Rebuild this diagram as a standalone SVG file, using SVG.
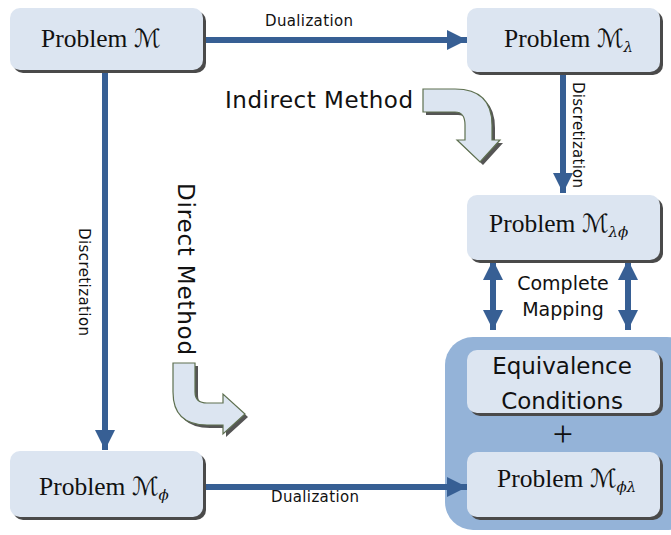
<svg xmlns="http://www.w3.org/2000/svg" width="671" height="535" viewBox="0 0 671 535">
<style>
.bg{fill:#ffffff}
.node{fill:#dce5f1}
.shadow{fill:#4a4a4a}
.cont{fill:#94b3d8}
.pt{font-family:"Liberation Serif","DejaVu Serif",serif;font-size:25.5px;fill:#111}
.m{font-family:"DejaVu Serif","DejaVu Sans",serif;font-size:25px}
.sub{font-family:"DejaVu Serif",serif;font-size:15px;font-style:italic}
.sans{font-family:"DejaVu Sans","Liberation Sans",sans-serif;fill:#111}
.conn{stroke:#375f94;stroke-width:6;fill:none}
.head{fill:#375f94}
.curve{fill:#dce5f1;stroke:#5e7050;stroke-width:1.2}
.cshadow{fill:#555}
</style>
<defs>
<marker id="ah" markerUnits="userSpaceOnUse" markerWidth="22" markerHeight="22" refX="20" refY="11" orient="auto">
<path class="head" d="M0,1 L20,11 L0,21 Z"/>
</marker>
<marker id="ahs" markerUnits="userSpaceOnUse" markerWidth="22" markerHeight="22" refX="2" refY="11" orient="auto">
<path class="head" d="M20,1 L0,11 L20,21 Z"/>
</marker>
</defs>
<rect class="bg" width="671" height="535"/>

<g id="container">
<rect class="cont" x="445" y="337" width="250" height="193" rx="28"/>
</g>

<g id="connectors">
<line class="conn" x1="203" y1="40" x2="467" y2="40" marker-end="url(#ah)"/>
<line class="conn" x1="105" y1="70" x2="105" y2="450" marker-end="url(#ah)"/>
<line class="conn" x1="563" y1="72" x2="563" y2="193" marker-end="url(#ah)"/>
<line class="conn" x1="203" y1="487" x2="467" y2="487" marker-end="url(#ah)"/>
<line class="conn" x1="493" y1="262" x2="493" y2="330" marker-start="url(#ahs)" marker-end="url(#ah)"/>
<line class="conn" x1="628" y1="262" x2="628" y2="330" marker-start="url(#ahs)" marker-end="url(#ah)"/>
<text class="sans" x="309" y="26" font-size="15" text-anchor="middle" textLength="88">Dualization</text>
<text class="sans" x="315" y="502" font-size="15" text-anchor="middle" textLength="88">Dualization</text>
<text class="sans" font-size="15" text-anchor="middle" textLength="106" transform="translate(573,135) rotate(90)">Discretization</text>
<text class="sans" font-size="15" text-anchor="middle" textLength="108" transform="translate(79,282) rotate(90)">Discretization</text>
<text class="sans" x="563" y="290" font-size="19" text-anchor="middle">Complete</text>
<text class="sans" x="563" y="316" font-size="19" text-anchor="middle">Mapping</text>
</g>

<g id="indirect-method">
<text class="sans" x="225" y="108" font-size="23" textLength="188">Indirect Method</text>
<path class="cshadow" transform="translate(3,3)" d="M423,89 L455,89 Q492,89 492,125 L492,140 L500,140 L480,162 L457,140 L465,140 L465,125 Q465,112 455,112 L423,112 Z"/>
<path class="curve" d="M423,89 L455,89 Q492,89 492,125 L492,140 L500,140 L480,162 L457,140 L465,140 L465,125 Q465,112 455,112 L423,112 Z"/>
</g>

<g id="direct-method">
<text class="sans" font-size="23" textLength="172" transform="translate(178,183) rotate(90)">Direct Method</text>
<path class="cshadow" transform="translate(3,3)" d="M173,363 L195,363 L195,392 Q195,403 207,403 L223,403 L223,394 L245,414 L223,434 L223,425 L207,425 Q173,425 173,392 Z"/>
<path class="curve" d="M173,363 L195,363 L195,392 Q195,403 207,403 L223,403 L223,394 L245,414 L223,434 L223,425 L207,425 Q173,425 173,392 Z"/>
</g>

<g id="problem-M">
<rect class="shadow" x="13" y="11" width="193" height="62" rx="10"/>
<rect class="node" x="10" y="8" width="193" height="62" rx="10"/>
<text class="pt" x="41" y="47">Problem <tspan class="m">ℳ</tspan></text>
</g>

<g id="problem-M-lambda">
<rect class="shadow" x="470" y="11" width="193" height="64" rx="10"/>
<rect class="node" x="467" y="8" width="193" height="64" rx="10"/>
<text class="pt" x="504" y="47">Problem <tspan class="m">ℳ</tspan><tspan class="sub" dy="5">λ</tspan></text>
</g>

<g id="problem-M-lambda-phi">
<rect class="shadow" x="470" y="198" width="193" height="65" rx="10"/>
<rect class="node" x="467" y="195" width="193" height="65" rx="10"/>
<text class="pt" x="489" y="232">Problem <tspan class="m">ℳ</tspan><tspan class="sub" dy="5">λϕ</tspan></text>
</g>

<g id="equivalence-conditions">
<rect class="shadow" x="470" y="353" width="193" height="63" rx="10"/>
<rect class="node" x="467" y="350" width="193" height="63" rx="10"/>
<text class="sans" x="562" y="374" font-size="23" text-anchor="middle">Equivalence</text>
<text class="sans" x="562" y="409" font-size="23" text-anchor="middle">Conditions</text>
<text x="563" y="446" text-anchor="middle" style="font-family:'Liberation Serif',serif;font-size:36px;fill:#111">+</text>
</g>

<g id="problem-M-phi-lambda">
<rect class="shadow" x="470" y="455" width="193" height="65" rx="10"/>
<rect class="node" x="467" y="452" width="193" height="65" rx="10"/>
<text class="pt" x="497" y="487">Problem <tspan class="m">ℳ</tspan><tspan class="sub" dy="5">ϕλ</tspan></text>
</g>

<g id="problem-M-phi">
<rect class="shadow" x="13" y="454" width="193" height="66" rx="10"/>
<rect class="node" x="10" y="451" width="193" height="66" rx="10"/>
<text class="pt" x="39" y="495">Problem <tspan class="m">ℳ</tspan><tspan class="sub" dy="5">ϕ</tspan></text>
</g>
</svg>
